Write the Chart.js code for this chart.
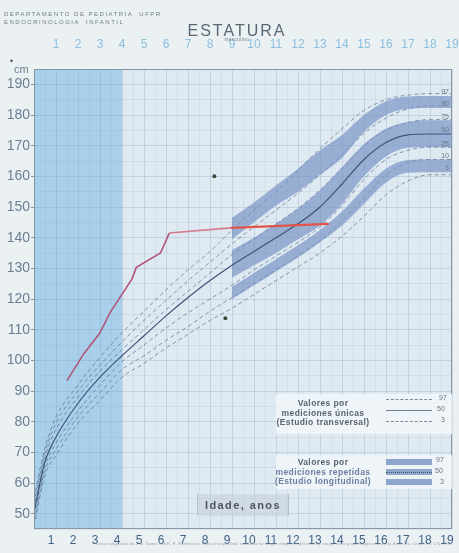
<!DOCTYPE html>
<html>
<head>
<meta charset="utf-8">
<script src="https://cdn.jsdelivr.net/npm/chart.js@4.4.1/dist/chart.umd.min.js"></script>
<style>
  html, body { margin: 0; padding: 0; background: #ebf0f3; }
  #wrap { position: relative; width: 459px; height: 553px; overflow: hidden; font-family: 'Liberation Sans', Arial, sans-serif; }
  #chart { position: absolute; left: 0; top: 0; }
  .t { position: absolute; white-space: nowrap; }
  .hdr { left: 4px; font-size: 6px; letter-spacing: 1.5px; color: #6d7d8c; }
  .title { left: 0; width: 474px; top: 22px; text-align: center; font-size: 16px; letter-spacing: 2px; color: #5a6874; }
  .sub { left: 0; width: 474px; top: 37px; text-align: center; font-size: 4.5px; letter-spacing: 0.5px; color: #6d7d8c; }
  .box { position: absolute; background: rgba(241, 245, 248, 0.9); }
  .lg { position: absolute; left: 263px; width: 120px; text-align: center; font-size: 8.5px; font-weight: bold; letter-spacing: 0.4px; line-height: 9.5px; color: #59636f; }
  .sw { position: absolute; left: 386px; width: 46px; }
  .pn { position: absolute; font-size: 7px; color: #6a7480; }
  .idade { position: absolute; left: 197px; top: 494px; width: 90px; height: 22px; line-height: 22px; text-align: center;
           font-size: 11px; font-weight: bold; letter-spacing: 1.4px; color: #4e555d;
           background: rgba(196, 208, 220, 0.55); border-left: 1px solid #b3c1ce; border-right: 1px solid #b3c1ce; }
  .foot { left: 95px; top: 542px; font-size: 3.5px; color: #8f9ba6; letter-spacing: 0.3px; }
</style>
</head>
<body>
<div id="wrap">
  <canvas id="chart" width="459" height="553"></canvas>
  <div class="t hdr" style="top:11px">DEPARTAMENTO DE PEDIATRIA &nbsp;UFPR</div>
  <div class="t hdr" style="top:19px">ENDOCRINOLOGIA &nbsp;INFANTIL</div>
  <div class="t title">ESTATURA</div>
  <div class="t sub">masculino</div>
  <div class="t" style="left:10px;top:56px;font-size:9px;color:#4a5560">•</div>
  <div class="t" style="left:14px;top:63px;font-size:11px;color:#6b7f92">cm</div>

  <div class="box" style="left:276px;top:394px;width:176px;height:40px"></div>
  <div class="lg" style="top:399px">Valores por<br>mediciones únicas<br>(Estudio transversal)</div>
  <div class="sw" style="top:399px;border-top:1px dashed #7d8a98"></div>
  <div class="sw" style="top:410px;border-top:1px solid #6f7d8c"></div>
  <div class="sw" style="top:421px;border-top:1px dashed #7d8a98"></div>
  <div class="pn" style="left:439px;top:394px">97</div>
  <div class="pn" style="left:437px;top:405px">50</div>
  <div class="pn" style="left:441px;top:416px">3</div>

  <div class="box" style="left:276px;top:455px;width:176px;height:34px"></div>
  <div class="lg" style="top:458px"><span>Valores por</span><br><span style="color:#6b7ea2">mediciones repetidas</span><br><span style="color:#6b7ea2">(Estudio longitudinal)</span></div>
  <div class="sw" style="top:459px;height:6px;background:#8fa6cc"></div>
  <div class="sw" style="top:469px;height:6px;background:#8fa6cc"></div>
  <div class="sw" style="top:472px;border-top:1px dotted #3f5478"></div>
  <div class="sw" style="top:479px;height:6px;background:#8fa6cc"></div>
  <div class="pn" style="left:436px;top:456px">97</div>
  <div class="pn" style="left:435px;top:467px">50</div>
  <div class="pn" style="left:440px;top:478px">3</div>

  <div class="idade">Idade, anos</div>
  <div class="t foot">Curvas adaptadas de J. M. Tanner and R. H. Whitehouse, Clinical longitudinal standards for height, weight, height velocity, weight velocity and stages of puberty. Arch. Dis. Childh. 51: 170, 1976</div>
</div>
<script>
// ages (years) for the cross-sectional percentile lines
const ages = [0, 0.5, 1, 2, 3, 4, 5, 6, 7, 8, 9, 10, 11, 12, 13, 14, 15, 16, 17, 18, 19];
const p97 = [55, 71.5, 81.5, 92, 101, 109, 116, 123, 129.5, 135.5, 142.5, 149, 155, 162, 169, 175.5, 181.5, 185, 186.5, 187, 187];
const p90 = [53.5, 70, 79.5, 90, 98.5, 106, 113, 119.5, 126, 132, 138, 143.5, 149, 154.5, 160.5, 167, 174, 179, 182, 183, 183];
const p75 = [52, 68.5, 77.5, 88, 96.5, 103.5, 110, 116.5, 122.5, 128.5, 134.5, 139.5, 144.5, 149.5, 155.5, 162.5, 170, 175, 177.5, 178.5, 178.5];
const p50 = [50.5, 67, 75, 86, 94.5, 101.5, 108, 114.5, 120.5, 126, 131, 135.5, 140, 144.5, 150, 157.5, 165.5, 171, 173.5, 173.8, 173.8];
const p25 = [49, 65.5, 73, 83.5, 92, 99.5, 105, 110.5, 115.5, 120, 124.5, 129.5, 134, 138.5, 143.5, 150.5, 159, 165.5, 168.5, 169.5, 169.5];
const p10 = [47.5, 64, 71, 81.5, 89.5, 97, 101.5, 106.5, 111, 116, 120.5, 125, 129.5, 134, 139, 145.5, 153, 160.5, 164.5, 165.5, 165.5];
const p3 = [46, 62.5, 69, 79.5, 87, 94.5, 99, 104, 108.5, 113, 117, 121.5, 126, 130.5, 135, 140.5, 147, 154, 158.5, 160.5, 160.5];

// longitudinal bands (97-90, 75-25, 10-3)
const bandAges = [9, 10, 11, 12, 13, 14, 15, 16, 17, 18, 19];
const upperTop = [146.5, 151.5, 157, 162.5, 168.5, 173.5, 180, 184.5, 186, 186.2, 186.2];
const upperBottom = [139.5, 145, 150.5, 155, 160.5, 166, 174.5, 180, 182, 182.3, 182.3];
const midTop = [136, 140, 144.5, 149.5, 155.5, 163, 170.5, 175.5, 177.8, 178.3, 178.3];
const midBottom = [127, 131, 135, 139.5, 144, 151, 160, 166.5, 169.3, 169.5, 169.5];
const lowTop = [124, 128.5, 133, 137.5, 142.5, 148.5, 156, 162.5, 165.3, 165.5, 165.5];
const lowBottom = [120, 124.5, 129, 133.5, 138.5, 144, 151, 158, 161.2, 161.3, 161.3];

// patient measurements
const patientAges = [1.5, 2.25, 3.0, 3.45, 4.45, 4.65, 5.75, 6.15, 8.95, 13.4];
const patientHeights = [93.4, 102, 109, 115.5, 126.5, 130.3, 135, 141.5, 143.2, 144.5];

// stray marks on the sheet
const markAges = [8.2, 8.7];
const markHeights = [160, 113.7];

const xTicks = [1, 2, 3, 4, 5, 6, 7, 8, 9, 10, 11, 12, 13, 14, 15, 16, 17, 18, 19];
const yTicks = [50, 60, 70, 80, 90, 100, 110, 120, 130, 140, 150, 160, 170, 180, 190];
const shadedUntil = 4;
const rightLabels = ['97', '90', '75', '50', '25', '10', '3'];
const rightLabelValues = [187.4, 183.6, 179.4, 175, 170.4, 166.6, 162.6];

const pts = (xs, ys) => xs.map((x, i) => ({ x: x, y: ys[i] }));
const bandColor = 'rgba(118, 146, 196, 0.68)';
const dashColor = 'rgba(78, 98, 128, 0.7)';

function dashed(data) {
    return {
        data: pts(ages, data), borderColor: dashColor, borderWidth: 0.9, borderDash: [4, 3],
        pointRadius: 0, fill: false, cubicInterpolationMode: 'monotone'
    };
}
function band(data, fill) {
    return {
        data: pts(bandAges, data), borderWidth: 0, borderColor: 'rgba(0,0,0,0)', backgroundColor: bandColor,
        pointRadius: 0, fill: fill, cubicInterpolationMode: 'monotone'
    };
}
// fixed axis sizes so the plot box lands where the sheet has it
function fixSize(prop, size) {
    return s => {
        s[prop] = size;
        s.paddingLeft = 0; s.paddingRight = 0; s.paddingTop = 0; s.paddingBottom = 0;
    };
}

const paper = {
    id: 'paper',
    beforeDraw(chart) {
        const { ctx, chartArea: a, scales: { x } } = chart;
        ctx.save();
        ctx.fillStyle = '#dfe9f1';
        ctx.fillRect(a.left, a.top, a.right - a.left, a.bottom - a.top);
        ctx.fillStyle = '#a8d0ea';
        ctx.fillRect(a.left, a.top, x.getPixelForValue(shadedUntil) - a.left, a.bottom - a.top);
        ctx.restore();
    },
    afterDatasetsDraw(chart) {
        const { ctx, chartArea: a, scales: { y } } = chart;
        ctx.save();
        ctx.strokeStyle = '#8797a6';
        ctx.lineWidth = 1;
        ctx.strokeRect(a.left + 0.5, a.top + 0.5, a.right - a.left - 1, a.bottom - a.top - 1);
        ctx.font = '7px "Liberation Sans", Arial, sans-serif';
        ctx.fillStyle = '#6c7a88';
        ctx.textAlign = 'right';
        ctx.textBaseline = 'middle';
        rightLabels.forEach((t, i) => ctx.fillText(t, a.right - 3, y.getPixelForValue(rightLabelValues[i])));
        ctx.restore();
    }
};

const gridColor = (major, minor) => c => Number.isInteger(c.tick.value / major) ? 'rgba(120,150,180,0.26)' : minor;

new Chart(document.getElementById('chart'), {
    type: 'line',
    data: {
        datasets: [
            {
                data: pts(patientAges, patientHeights), borderWidth: 1.6, pointRadius: 0, fill: false,
                borderColor: '#b0567c',
                segment: {
                    borderColor: c => c.p0.parsed.x >= 8.9 ? '#e2544a' : (c.p0.parsed.x >= 6 ? '#d37c8c' : '#b0567c'),
                    borderWidth: c => c.p0.parsed.x >= 8.9 ? 2.2 : 1.6
                }
            },
            {
                data: pts(markAges, markHeights), showLine: false, pointRadius: 2,
                pointBackgroundColor: '#3b4a3e', pointBorderWidth: 0
            },
            {
                data: pts(ages, p50), borderColor: '#3f5478', borderWidth: 1.2, pointRadius: 0, fill: false,
                cubicInterpolationMode: 'monotone'
            },
            band(upperTop, '+1'),
            band(upperBottom, false),
            band(midTop, '+1'),
            band(midBottom, false),
            band(lowTop, '+1'),
            band(lowBottom, false),
            dashed(p97),
            dashed(p90),
            dashed(p75),
            dashed(p25),
            dashed(p10),
            dashed(p3)
        ]
    },
    options: {
        responsive: false,
        animation: false,
        layout: { padding: { left: 0, right: 7, top: 0, bottom: 0 } },
        plugins: { legend: { display: false }, tooltip: { enabled: false } },
        scales: {
            x: {
                type: 'linear', position: 'bottom', min: 0, max: 19,
                afterFit: fixSize('height', 24),
                afterBuildTicks: s => { s.ticks = []; for (let v = 0; v <= 38; v++) s.ticks.push({ value: v / 2 }); },
                ticks: {
                    autoSkip: false, maxRotation: 0, labelOffset: -5, padding: 4, color: '#3f6286',
                    font: { size: 12, family: '"Liberation Sans", Arial, sans-serif' },
                    callback: v => xTicks.includes(v) ? String(v) : ''
                },
                grid: { drawTicks: false, color: gridColor(1, 'rgba(120,150,180,0.12)') },
                border: { display: false }
            },
            xTop: {
                type: 'linear', position: 'top', min: 0, max: 19,
                afterFit: fixSize('height', 69),
                afterBuildTicks: s => { s.ticks = xTicks.map(v => ({ value: v })); },
                ticks: {
                    autoSkip: false, maxRotation: 0, padding: 17, color: '#8cbfe0',
                    font: { size: 12, family: '"Liberation Sans", Arial, sans-serif' }
                },
                grid: { display: false, drawTicks: false, tickLength: 0 },
                border: { display: false }
            },
            y: {
                min: 45, max: 195,
                afterFit: fixSize('width', 34),
                afterBuildTicks: s => { s.ticks = []; for (let v = 45; v <= 195; v += 5) s.ticks.push({ value: v }); },
                ticks: {
                    autoSkip: false, padding: 1, color: '#6b7f92',
                    font: { size: 14, family: '"Liberation Sans", Arial, sans-serif' },
                    callback: v => yTicks.includes(v) ? String(v) : ''
                },
                grid: {
                    tickLength: 3,
                    color: gridColor(10, 'rgba(120,150,180,0.13)'),
                    tickColor: c => yTicks.includes(c.tick.value) ? '#8797a6' : 'rgba(0,0,0,0)'
                },
                border: { display: false }
            }
        }
    },
    plugins: [paper]
});
</script>
</body>
</html>
